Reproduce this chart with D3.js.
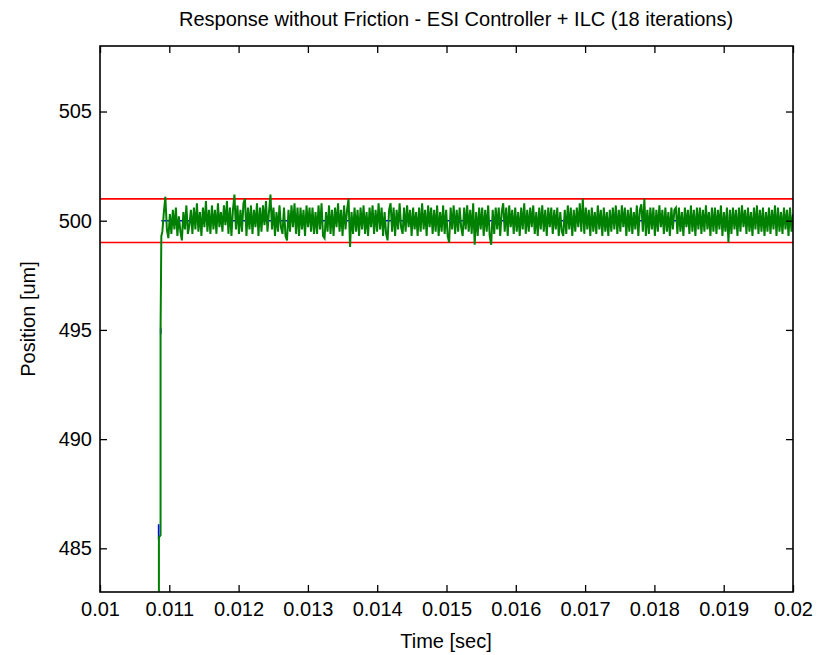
<!DOCTYPE html>
<html>
<head>
<meta charset="utf-8">
<script src="https://cdn.jsdelivr.net/npm/d3@7"></script>
<style>
  body { margin: 0; background: #fff; }
  text { font-family: "Liberation Sans", Arial, sans-serif; fill: #000; }
</style>
</head>
<body>
<svg id="chart" width="827" height="655"></svg>
<script>
// ---------------- data ----------------
const title = "Response without Friction - ESI Controller + ILC (18 iterations)";
const xLabel = "Time [sec]";
const yLabel = "Position [um]";
const xTicks = [0.01, 0.011, 0.012, 0.013, 0.014, 0.015, 0.016, 0.017, 0.018, 0.019, 0.02];
const xTickLabels = ["0.01","0.011","0.012","0.013","0.014","0.015","0.016","0.017","0.018","0.019","0.02"];
const yTicks = [485, 490, 495, 500, 505];
const xDomain = [0.01, 0.02];
const yDomain = [483, 508];

// tolerance band (red lines)
const bandLower = 499;
const bandUpper = 501;

// blue (underlying) trace; null breaks the line
const blueTime = [0.010846, 0.010846, null, 0.010876, 0.010876, null, 0.010885, 0.02];
const blueValues = [485.4, 486.1, null, 494.8, 495.1, null, 500.0, 500.0];

// green trace: rise
const riseTime = [0.01085, 0.01085, 0.010874, 0.010874, 0.010885];
const riseValues = [482.0, 485.5, 485.6, 495.0, 499.3];

// green trace: settled response, sampled evenly from noiseStart to noiseEnd
const noiseStart = 0.0109;
const noiseEnd = 0.02;
const noiseValues = [
499.5,500.4,501.1,499.6,499.2,500.3,499.4,500.5,499.6,500.6,499.3,500.2,499.5,499.1,500.4,499.6,500.7,499.4,499.8,500.5,
499.4,500.6,499.6,500.8,499.5,500.4,499.3,500.6,499.7,500.9,499.5,500.5,499.4,500.7,499.6,500.5,499.4,500.8,499.7,500.4,
499.5,500.7,499.8,500.9,499.4,500.6,499.3,500.5,501.2,499.6,500.7,499.4,500.5,499.5,500.8,501.0,499.3,500.6,499.6,500.7,
499.4,500.5,499.7,500.8,499.3,500.6,499.5,500.7,499.8,500.9,499.5,500.4,501.2,499.6,500.6,499.3,500.4,499.5,500.7,499.7,
499.4,500.6,499.3,499.1,500.5,499.5,500.7,499.7,500.8,499.4,500.6,499.3,500.6,499.6,500.5,499.3,500.7,499.7,500.6,499.5,
500.6,499.4,500.4,499.4,500.7,499.6,500.8,499.3,499.2,500.4,499.5,500.7,499.4,500.5,499.3,500.6,499.7,500.8,499.5,500.5,
499.3,500.7,499.6,500.5,501.0,498.8,500.4,499.4,500.6,499.5,500.5,499.3,500.6,499.6,500.7,499.4,500.4,499.3,500.6,499.7,
500.7,499.4,500.5,499.5,500.8,499.6,500.6,499.3,500.4,499.4,499.1,500.5,500.8,499.5,500.6,499.3,500.5,499.6,500.8,499.7,
499.4,500.6,499.5,500.7,499.7,500.5,499.3,500.6,499.6,500.4,499.3,500.6,499.5,500.8,499.6,500.5,499.3,500.7,499.7,500.6,
499.4,500.5,499.5,500.7,499.3,500.4,499.5,500.7,499.4,500.5,499.3,499.0,500.6,499.6,500.7,499.4,500.5,499.5,500.6,499.7,
499.3,500.6,499.6,500.7,499.5,500.5,499.4,500.8,498.9,500.4,499.3,500.6,499.6,500.6,499.3,500.5,499.5,500.7,499.3,498.9,
500.5,499.4,500.6,499.6,500.6,499.3,500.4,500.8,499.5,500.6,499.3,500.7,499.7,500.5,499.4,500.6,499.5,500.4,499.3,500.6,
499.6,500.8,499.4,500.5,499.5,500.6,499.7,500.7,499.4,500.4,499.3,500.6,499.6,500.7,499.5,500.5,499.3,500.6,499.7,500.6,
499.4,500.5,499.6,500.6,499.3,500.4,499.5,499.3,500.5,499.4,500.7,499.6,500.6,499.3,500.5,499.5,500.6,499.7,500.8,499.5,
501.0,499.4,500.6,499.6,500.5,499.3,500.6,499.5,500.4,499.4,500.7,499.6,500.5,499.3,500.6,499.5,500.4,499.3,500.5,499.5,
500.6,499.6,500.7,499.4,500.5,499.5,500.7,499.7,500.6,499.3,500.5,499.5,500.6,499.4,500.4,499.6,500.7,499.3,500.5,500.75,
499.5,501.0,499.3,500.5,499.4,500.6,499.6,500.6,499.3,500.5,499.5,500.7,499.7,500.5,499.4,500.6,499.5,500.4,499.3,500.6,
499.6,500.5,500.6,499.4,500.6,499.5,500.4,499.3,500.6,499.7,500.5,499.4,500.7,499.5,500.5,499.3,500.6,499.6,500.6,499.4,
500.5,499.5,500.7,499.6,500.4,499.3,500.6,499.5,500.6,499.4,500.5,499.6,500.7,499.3,500.4,499.5,500.6,499.0,500.5,499.4,
500.6,499.6,500.5,499.3,500.6,499.5,500.7,499.7,500.5,499.4,500.6,499.5,500.4,499.3,500.6,499.6,500.7,499.4,500.5,499.5,
500.6,499.3,500.4,499.5,500.6,499.4,500.5,499.6,500.7,499.3,500.6,499.5,500.4,499.4,500.6,499.6,500.5,499.3,500.6,499.5,500.3
];

// ---------------- layout ----------------
const plot = { left: 100, top: 46, right: 793, bottom: 592 };
const svg = d3.select("#chart");
const fontFamily = '"Liberation Sans", Arial, sans-serif';

const x = d3.scaleLinear().domain(xDomain).range([plot.left, plot.right]);
const y = d3.scaleLinear().domain(yDomain).range([plot.bottom, plot.top]);

const noiseTime = d3.range(noiseValues.length).map(i =>
  noiseStart + (noiseEnd - noiseStart) * i / (noiseValues.length - 1));

const green = riseTime.map((t, i) => [t, riseValues[i]])
  .concat(noiseTime.map((t, i) => [t, noiseValues[i]]));
const blue = blueTime.map((t, i) => [t, blueValues[i]]);

svg.append("defs").append("clipPath").attr("id", "clip")
  .append("rect")
  .attr("x", plot.left).attr("y", plot.top)
  .attr("width", plot.right - plot.left).attr("height", plot.bottom - plot.top);

const line = d3.line()
  .defined(d => d[0] !== null && d[1] !== null)
  .x(d => x(d[0])).y(d => y(d[1]));
const g = svg.append("g").attr("clip-path", "url(#clip)");

// red tolerance lines
[bandLower, bandUpper].forEach(v => {
  g.append("path")
    .datum([[xDomain[0], v], [xDomain[1], v]])
    .attr("d", line)
    .attr("fill", "none")
    .attr("stroke", "#ff0000")
    .attr("stroke-width", 1.6);
});

g.append("path").datum(blue).attr("d", line)
  .attr("fill", "none").attr("stroke", "#0000ff").attr("stroke-width", 1.6);

g.append("path").datum(green).attr("d", line)
  .attr("fill", "none").attr("stroke", "#008000").attr("stroke-width", 2)
  .attr("stroke-linejoin", "miter");

// axes (MATLAB-style inward ticks on all sides)
const tickLen = 7;
const fontSize = 20;

const xAxisB = d3.axisBottom(x).tickValues(xTicks).tickSize(-tickLen).tickPadding(10)
  .tickFormat((d, i) => xTickLabels[i]);
const xAxisT = d3.axisTop(x).tickValues(xTicks).tickSize(-tickLen).tickFormat("");
const yAxisL = d3.axisLeft(y).tickValues(yTicks).tickSize(-tickLen).tickPadding(8)
  .tickFormat(d3.format("d"));
const yAxisR = d3.axisRight(y).tickValues(yTicks).tickSize(-tickLen).tickFormat("");

function style(sel) {
  sel.select(".domain").remove();
  sel.selectAll("line").attr("stroke", "#000").attr("stroke-width", 1.3);
  sel.selectAll("text").attr("font-size", fontSize).attr("fill", "#000")
    .style("font-family", fontFamily);
}

svg.append("g").attr("transform", `translate(0,${plot.bottom})`).call(xAxisB).call(style);
svg.append("g").attr("transform", `translate(0,${plot.top})`).call(xAxisT).call(style);
svg.append("g").attr("transform", `translate(${plot.left},0)`).call(yAxisL).call(style);
svg.append("g").attr("transform", `translate(${plot.right},0)`).call(yAxisR).call(style);

// frame
svg.append("rect")
  .attr("x", plot.left).attr("y", plot.top)
  .attr("width", plot.right - plot.left).attr("height", plot.bottom - plot.top)
  .attr("fill", "none").attr("stroke", "#000").attr("stroke-width", 1.6);

// labels
svg.append("text").attr("x", 456).attr("y", 26)
  .attr("text-anchor", "middle").attr("font-size", fontSize).text(title);
svg.append("text").attr("x", 446).attr("y", 648)
  .attr("text-anchor", "middle").attr("font-size", fontSize).text(xLabel);
svg.append("text")
  .attr("transform", `translate(35,${(plot.top + plot.bottom) / 2}) rotate(-90)`)
  .attr("text-anchor", "middle").attr("font-size", fontSize).text(yLabel);
</script>
</body>
</html>
